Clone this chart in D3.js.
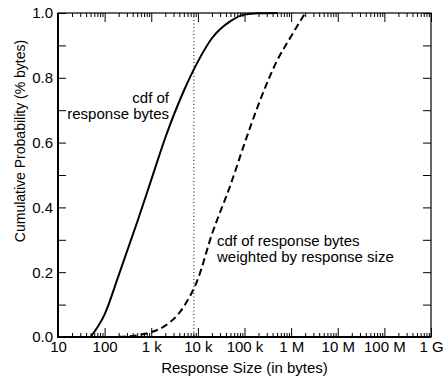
<!DOCTYPE html>
<html>
<head>
<meta charset="utf-8">
<script src="https://cdn.jsdelivr.net/npm/d3@7"></script>
<style>
  html, body { margin: 0; padding: 0; background: #fff; }
  svg { display: block; }
</style>
</head>
<body>
<div id="chart"></div>
<script>
// ── Data ───────────────────────────────────────────────────────
const countSizes = [50, 100, 200, 500, 1000, 2000, 5000, 10000, 20000, 50000, 100000, 200000, 500000];
const countCdf   = [0, 0.07, 0.19, 0.355, 0.485, 0.615, 0.76, 0.85, 0.922, 0.975, 0.995, 0.999, 1.0];

const byteSizes  = [200, 500, 1000, 2000, 5000, 10000, 20000, 50000, 100000, 200000, 500000, 1000000, 2000000];
const byteCdf    = [0.001, 0.005, 0.015, 0.035, 0.094, 0.179, 0.317, 0.469, 0.597, 0.718, 0.853, 0.928, 1.0];

const markerSize = 8192;

const xTickValues = [10, 100, 1e3, 1e4, 1e5, 1e6, 1e7, 1e8, 1e9];
const xTickLabels = ['10', '100', '1 k', '10 k', '100 k', '1 M', '10 M', '100 M', '1 G'];
const yTickValues = [0, 0.2, 0.4, 0.6, 0.8, 1.0];
const yMinorTicks = [0.1, 0.3, 0.5, 0.7, 0.9];

// ── Chart ──────────────────────────────────────────────────────
const width = 443, height = 379;
const margin = { top: 13, right: 12, bottom: 42, left: 58 };
const W = width - margin.left - margin.right;
const H = height - margin.top - margin.bottom;
const font = "'Liberation Sans', Arial, Helvetica, sans-serif";

const svg = d3.select('#chart').append('svg')
  .attr('width', width)
  .attr('height', height);

const g = svg.append('g')
  .attr('transform', `translate(${margin.left},${margin.top})`);

const x = d3.scaleLog().domain([10, 1e9]).range([0, W]);
const y = d3.scaleLinear().domain([0, 1]).range([H, 0]);

// minor log ticks: 2..9 within every decade
const minorX = [];
xTickValues.slice(0, -1).forEach(d => {
  for (let m = 2; m <= 9; m++) minorX.push(d * m);
});

function styleAxis(sel) {
  sel.select('.domain').remove();
  sel.selectAll('line').attr('stroke', '#000').attr('stroke-width', 1);
  sel.selectAll('text')
    .attr('fill', '#000')
    .attr('font-family', font)
    .attr('font-size', '15px');
}

// bottom axis (labels + major ticks pointing up)
const xAxis = g.append('g').attr('transform', `translate(0,${H})`)
  .call(d3.axisBottom(x).tickValues(xTickValues).tickSizeInner(-9).tickSizeOuter(0)
    .tickPadding(4).tickFormat((d, i) => xTickLabels[i]));
styleAxis(xAxis);

g.append('g').attr('transform', `translate(0,${H})`)
  .call(d3.axisBottom(x).tickValues(minorX).tickSizeInner(-4).tickSizeOuter(0).tickFormat(''))
  .call(styleAxis);

// top axis ticks pointing down
g.append('g')
  .call(d3.axisTop(x).tickValues(xTickValues).tickSizeInner(-9).tickSizeOuter(0).tickFormat(''))
  .call(styleAxis);
g.append('g')
  .call(d3.axisTop(x).tickValues(minorX).tickSizeInner(-4).tickSizeOuter(0).tickFormat(''))
  .call(styleAxis);

// left axis
const yAxis = g.append('g')
  .call(d3.axisLeft(y).tickValues(yTickValues).tickSizeInner(-8).tickSizeOuter(0)
    .tickPadding(5).tickFormat(d3.format('.1f')));
styleAxis(yAxis);
g.append('g')
  .call(d3.axisLeft(y).tickValues(yMinorTicks).tickSizeInner(-8).tickSizeOuter(0).tickFormat(''))
  .call(styleAxis);

// right axis
g.append('g').attr('transform', `translate(${W},0)`)
  .call(d3.axisRight(y).tickValues(yTickValues.concat(yMinorTicks)).tickSizeInner(-8).tickSizeOuter(0).tickFormat(''))
  .call(styleAxis);

// frame
g.append('rect')
  .attr('width', W).attr('height', H)
  .attr('fill', 'none').attr('stroke', '#000').attr('stroke-width', 1.2);
g.append('path')
  .attr('d', `M0,0V${H}H${W}`)
  .attr('fill', 'none').attr('stroke', '#000').attr('stroke-width', 2);

// dotted marker line
g.append('line')
  .attr('x1', x(markerSize)).attr('x2', x(markerSize))
  .attr('y1', 0).attr('y2', H)
  .attr('stroke', '#333').attr('stroke-width', 1.2)
  .attr('stroke-dasharray', '1,2.5');

// curves
const line = d3.line()
  .x(d => x(d[0]))
  .y(d => y(d[1]))
  .curve(d3.curveMonotoneX);

g.append('path')
  .datum(d3.zip(countSizes, countCdf))
  .attr('d', line)
  .attr('fill', 'none')
  .attr('stroke', '#000')
  .attr('stroke-width', 2);

g.append('path')
  .datum(d3.zip(byteSizes, byteCdf))
  .attr('d', line)
  .attr('fill', 'none')
  .attr('stroke', '#000')
  .attr('stroke-width', 2)
  .attr('stroke-dasharray', '7,4');

// annotations
const annot = (lines, ax, ay, anchor, step) => {
  lines.forEach((t, i) => {
    svg.append('text')
      .attr('x', ax).attr('y', ay + i * step)
      .attr('text-anchor', anchor)
      .attr('font-family', font)
      .attr('font-size', '15px')
      .attr('fill', '#000')
      .text(t);
  });
};
annot(['cdf of', 'response bytes'], 169, 103, 'end', 15.5);
annot(['cdf of response bytes', 'weighted by response size'], 217, 246, 'start', 15.5);

// axis titles
svg.append('text')
  .attr('x', margin.left + W / 2).attr('y', 373)
  .attr('text-anchor', 'middle')
  .attr('font-family', font).attr('font-size', '15px')
  .text('Response Size (in bytes)');

svg.append('text')
  .attr('transform', `translate(25,141) rotate(-90)`)
  .attr('text-anchor', 'middle')
  .attr('font-family', font).attr('font-size', '14px')
  .text('Cumulative Probability (% bytes)');
</script>
</body>
</html>
